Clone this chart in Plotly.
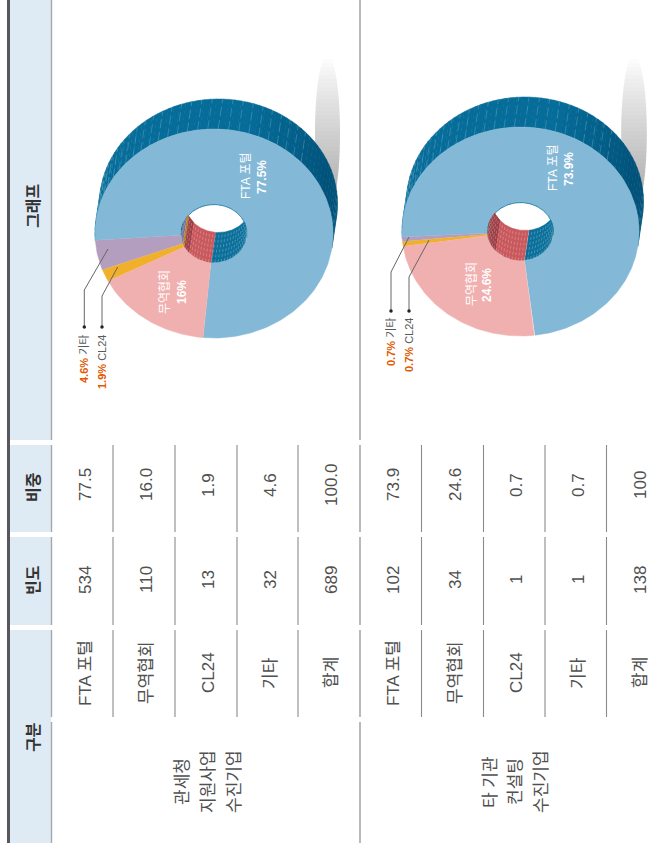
import numpy as np
import plotly.graph_objects as go

W, H = 667, 847
# ---- data ----
column_titles = ["구분", "빈도", "비중", "그래프"]
row_labels = ["FTA 포털", "무역협회", "CL24", "기타", "합계"]
group_a_lines = ["관세청", "지원사업", "수진기업"]
group_a_freq = ["534", "110", "13", "32", "689"]
group_a_share = ["77.5", "16.0", "1.9", "4.6", "100.0"]
group_b_lines = ["타 기관", "컨설팅", "수진기업"]
group_b_freq = ["102", "34", "1", "1", "138"]
group_b_share = ["73.9", "24.6", "0.7", "0.7", "100"]
pie_a_values = [77.5, 16.0, 1.9, 4.6]
pie_b_values = [73.9, 24.6, 0.7, 0.7]
pie_a_labels = ["77.5%", "16%", "1.9%", "4.6%"]
pie_b_labels = ["73.9%", "24.6%", "0.7%", "0.7%"]

# ---- style ----
FONT = "Liberation Sans, Noto Sans CJK KR, sans-serif"
TXT = "#505050"
C_FTA, C_TRADE, C_CL, C_OTHER = "#83b8d6", "#f1b0b0", "#f0b02c", "#b49ec0"
W_FTA, W_TRADE, W_CL, W_OTHER = "#0a6f9a", "#c9585d", "#b37a10", "#6f6a94"

fig = go.Figure()
ann = []
shapes = []


def poly(xs, ys, color, edge=None, ew=0.5):
    fig.add_trace(go.Scatter(x=list(xs), y=list(ys), mode="lines", fill="toself", fillcolor=color,
                             line=dict(color=edge or color, width=ew), hoverinfo="skip", showlegend=False))


def line(xs, ys, color="#8a8a8a", width=1.0, dash=None):
    fig.add_trace(go.Scatter(x=list(xs), y=list(ys), mode="lines", line=dict(color=color, width=width, dash=dash),
                             hoverinfo="skip", showlegend=False))


def text(x, y, s, size=17, color=TXT, **kw):
    a = dict(x=x, y=y, text=s, textangle=-90, showarrow=False, xref="x", yref="y", xanchor="center",
             yanchor="middle", font=dict(family=FONT, size=size, color=color))
    a.update(kw)
    ann.append(a)


def rect(x0, y0, x1, y1, color):
    shapes.append(dict(type="rect", x0=x0, x1=x1, y0=y0, y1=y1, xref="x", yref="y", fillcolor=color,
                       line=dict(width=0), layer="below"))


def mix(c1, c2, f):
    a = [int(c1[i:i + 2], 16) for i in (1, 3, 5)]
    b = [int(c2[i:i + 2], 16) for i in (1, 3, 5)]
    return "#%02x%02x%02x" % tuple(round(p + (q - p) * f) for p, q in zip(a, b))


def shadow(cx, top, rx, ry, y_end):
    ys = np.arange(top, y_end, 4.0)
    for y0 in ys:
        yy = np.linspace(y0, y0 + 4.6, 4)
        half = rx * np.sqrt(np.clip(1 - ((yy - (top + ry)) / ry) ** 2, 0, 1))
        f = min(1, (y0 - top) / (y_end - top))
        c = mix("#ffffff", "#a9a9a9", f ** 0.9)
        poly(np.r_[cx - half, (cx + half)[::-1]], np.r_[yy, yy[::-1]], c, ew=0)


def donut(cx, cy, start, values, rx=119, ry=104.5, hr=33, hry=29, dx=4.5, dy=-30):
    """values in the order FTA, trade, CL24, other. Angles run from start, decreasing on the screen."""
    pts = lambda t, a, b, ox=0, oy=0: (cx + ox + a * np.cos(np.radians(t)), cy + oy + b * np.sin(np.radians(t)))

    def inner_wall(tt):
        x1, y1 = pts(tt, hr, hry)
        ux, uy = (x1 - cx) / hr, (y1 - cy) / hry
        vx, vy = dx / hr, dy / hry
        s = np.clip(-2 * (ux * vx + uy * vy) / (vx * vx + vy * vy), 0, 1)
        return x1, y1, x1 + s * dx, y1 + s * dy

    order = [(values[0], C_FTA, W_FTA), (values[3], C_OTHER, W_OTHER), (values[2], C_CL, W_CL),
             (values[1], C_TRADE, W_TRADE)]
    # outer wall
    for t in np.arange(176, 366, 3.0):
        f = np.clip((t - 285) / 50, 0, 1)
        col = mix("#066c99", "#00527a", f)
        tt = np.linspace(t, t + 3.2, 3)
        x1, y1 = pts(tt, rx, ry)
        x2, y2 = pts(tt, rx, ry, dx, dy)
        poly(np.r_[x1, x2[::-1]], np.r_[y1, y2[::-1]], col)
    for t in np.arange(187, 322, 5.0):
        x1, y1 = pts(t, rx, ry)
        x2, y2 = pts(t, rx, ry, dx, dy)
        line([x1, x2], [y1, y2], "rgba(255,255,255,0.30)", 0.6, "9px,4px")
    # top face
    a = start
    spans = []
    for v, col, wall in order:
        b = a - v * 3.6
        tt = np.linspace(a, b, max(3, int(abs(a - b)) + 2))
        x1, y1 = pts(tt, rx, ry)
        x2, y2 = pts(tt, hr, hry)
        poly(np.r_[x1, x2[::-1]], np.r_[y1, y2[::-1]], col)
        spans.append((a, b, wall))
        a = b
    # hole and inner wall
    tt = np.linspace(0, 360, 90)
    hx, hy = pts(tt, hr, hry)
    poly(hx, hy, "#ffffff")
    for a, b, wall in spans:
        tt = np.linspace(a, b, max(4, int(abs(a - b) * 2) + 2))
        x1, y1, x2, y2 = inner_wall(tt)
        poly(np.r_[x1, x2[::-1]], np.r_[y1, y2[::-1]], wall)
        if wall == W_TRADE:
            hi = a % 360
            if hi > 139:
                td = np.linspace(139, hi, 20)
                x1, y1, x2, y2 = inner_wall(td)
                poly(np.r_[x1, x2[::-1]], np.r_[y1, y2[::-1]], "#9c3f45")
    for t in np.arange(6, 172, 5.5):
        x1, y1, x2, y2 = inner_wall(np.array([t]))
        line([x1[0], x2[0]], [y1[0], y2[0]], "rgba(255,255,255,0.30)", 0.8, "3px,2px")


def leader(xs, ys):
    line(xs, ys, "#666666", 1.0)
    fig.add_trace(go.Scatter(x=[xs[-1]], y=[ys[-1]], mode="markers", marker=dict(size=3.5, color="#222222"),
                             hoverinfo="skip", showlegend=False))


def pct(p, name):
    return f'<b><span style="color:#e25a00">{p}</span></b> <span style="color:#5a5a5a">{name}</span>'


# ---- header band ----
for y0, y1 in [(0, 440), (445, 532), (537, 625), (630, 843)]:
    rect(10, y0, 51, y1, "#deeaf4")
rect(7, 0, 10, 843, "#58585a")
for y0, y1 in [(0, 440), (445, 532), (537, 625), (630, 717), (722, 843)]:
    line([51.5, 51.5], [y0, y1], "#a8a8a8", 1.4)

# ---- table rules ----
seg = [(445, 532), (537, 625), (630, 717)]
for x in [113, 175, 237, 298, 421.5, 483.5, 545, 606.5]:
    for y0, y1 in seg:
        line([x, x], [y0, y1], "#8a8a8a", 1.1)
for y0, y1 in [(0, 440)] + seg + [(722, 843)]:
    line([360, 360], [y0, y1], "#8a8a8a", 1.2)

# ---- table text ----
for t, y in zip(column_titles, [737, 580, 487, 206]):
    text(33, y, f"<b>{t}</b>", size=16, color="#333333")
rows_a = [85, 146, 208, 270, 331]
rows_b = [393, 455, 516, 578, 640]
for xs, fr, sh in [(rows_a, group_a_freq, group_a_share), (rows_b, group_b_freq, group_b_share)]:
    for x, lab, f, s in zip(xs, row_labels, fr, sh):
        text(x, 673, lab)
        text(x, 580, f)
        text(x, 485, s)
for x, t in zip([182, 208, 234], group_a_lines):
    text(x, 782, t)
for x, t in zip([490, 515, 541], group_b_lines):
    text(x, 782, t)

# ---- charts ----
shadow(327.5, 55, 12.5, 78, 205)
shadow(634, 55, 12.8, 78, 205)
donut(214, 233.5, 95.3, pie_a_values)
donut(520.5, 231.5, 83, pie_b_values, rx=118.5)

leader([108, 84.3, 84.3], [249, 290, 327])
leader([117.7, 102, 102], [267, 296, 327])
leader([409, 391, 391], [237, 272, 311])
leader([429, 409, 409], [240, 277, 311])

text(84, 333, pct(pie_a_labels[3], "기타"), size=11, yanchor="top")
text(102, 333, pct(pie_a_labels[2], "CL24"), size=11, yanchor="top")
text(391, 316, pct(pie_b_labels[3], "기타"), size=11, yanchor="top")
text(409, 316, pct(pie_b_labels[2], "CL24"), size=11, yanchor="top")

W_T = "#ffffff"
text(246, 176, row_labels[0], size=12, color=W_T)
text(262, 177, f"<b>{pie_a_labels[0]}</b>", size=12, color=W_T)
text(165, 292, row_labels[1], size=12, color=W_T)
text(182, 292, f"<b>{pie_a_labels[1]}</b>", size=12, color=W_T)
text(553, 168, row_labels[0], size=12, color=W_T)
text(569, 169, f"<b>{pie_b_labels[0]}</b>", size=12, color=W_T)
text(472, 284, row_labels[1], size=12, color=W_T)
text(487, 285, f"<b>{pie_b_labels[1]}</b>", size=12, color=W_T)

fig.update_layout(
    width=W, height=H, margin=dict(l=0, r=0, t=0, b=0), paper_bgcolor="white", plot_bgcolor="white",
    xaxis=dict(range=[0, W], visible=False, fixedrange=True),
    yaxis=dict(range=[H, 0], visible=False, fixedrange=True),
    annotations=ann, shapes=shapes, showlegend=False,
)
fig.write_html("out.html", config=dict(displayModeBar=False),
               post_script="document.body.style.margin='0';document.body.style.overflow='hidden';")
